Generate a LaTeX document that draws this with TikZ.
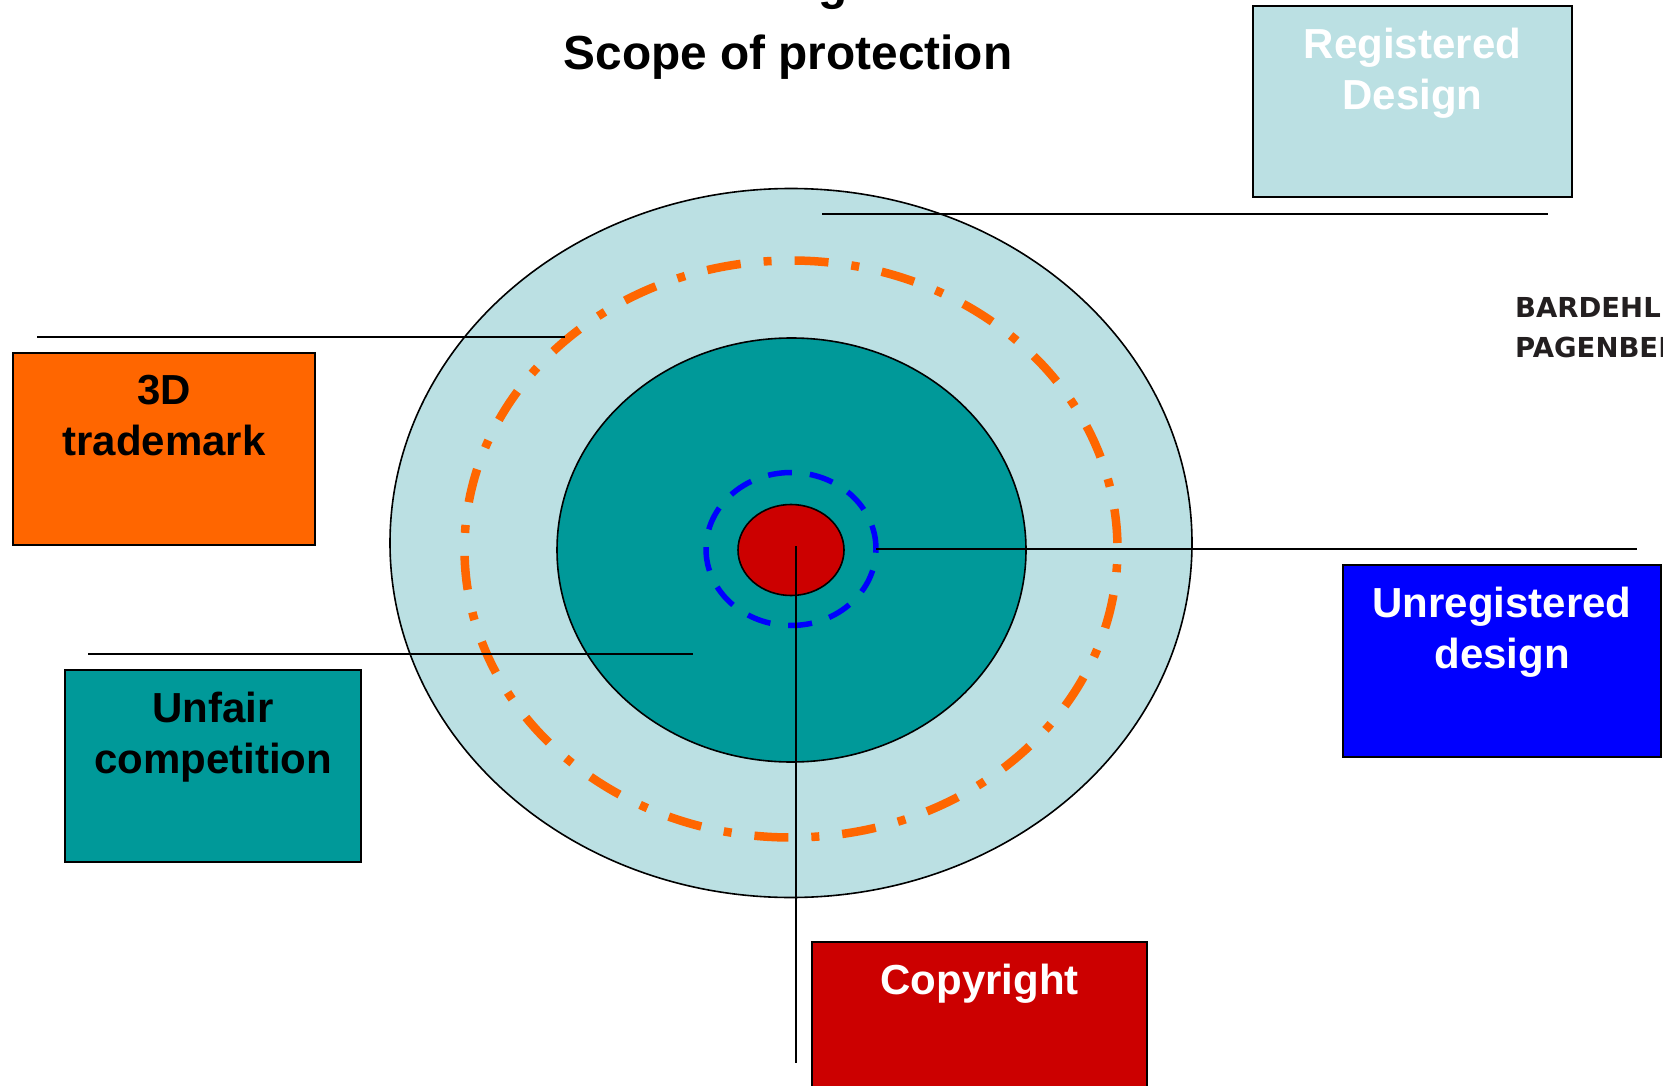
\documentclass[tikz,border=0pt]{standalone}
\usepackage{fontspec}
\setmainfont{Liberation Sans}
\newfontfamily\logofont{DejaVu Sans}
\usetikzlibrary{shapes.geometric}
\definecolor{lightcyan}{HTML}{BBE0E3}
\definecolor{tealc}{HTML}{009999}
\definecolor{orangec}{HTML}{FF6600}
\definecolor{redc}{HTML}{CC0000}
\definecolor{bluec}{HTML}{0000FF}
\definecolor{darkgr}{HTML}{231F20}
\begin{document}
\begin{tikzpicture}[x=1pt,y=-1pt,
  ring/.style={ellipse, draw=black, line width=1.6pt, inner sep=0pt},
  labelbox/.style={draw=black, line width=1.8pt},
  labeltext/.style={font=\fontsize{42}{51}\selectfont\bfseries, align=center, anchor=north, inner sep=0pt},
  leader/.style={draw=black, line width=1.6pt}]
\useasboundingbox (0,0) rectangle (1663,1086);
\clip (0,0) rectangle (1663,1086);
% title
\node[font=\fontsize{47.8}{57}\selectfont\bfseries, anchor=base, inner sep=0pt] (ttl0) at (797,-0.8) {Design};
\node[font=\fontsize{47.8}{57}\selectfont\bfseries, anchor=base, inner sep=0pt] (ttl) at (788,70) {Scope of protection};
% rings
\node[ring, fill=lightcyan, minimum width=802pt, minimum height=709pt] (outer) at (791,543) {};
\node[ellipse, draw=orangec, line width=8.5pt, dash pattern=on 34pt off 23pt on 8pt off 23pt, dash phase=82pt, minimum width=653pt, minimum height=577pt, inner sep=0pt] (tm) at (791,549) {};
\node[ring, fill=tealc, minimum width=469pt, minimum height=424pt] (mid) at (791.5,550) {};
\node[ellipse, draw=bluec, line width=5.5pt, dash pattern=on 24pt off 18pt, minimum width=170pt, minimum height=153pt, inner sep=0pt] (ud) at (791,549) {};
\node[ring, fill=redc, minimum width=106pt, minimum height=91pt] (core) at (791,550) {};
% boxes
\draw[labelbox, fill=lightcyan] (1253,6) rectangle (1572,197);
\node[labeltext, text=white] (rd) at (1412.5,28) {Registered\\Design};
\draw[labelbox, fill=orangec] (13,353) rectangle (315,545);
\node[labeltext] (td) at (164,375) {3D\\trademark};
\draw[labelbox, fill=tealc] (65,670) rectangle (361,862);
\node[labeltext] (uc) at (213,692) {Unfair\\competition};
\draw[labelbox, fill=bluec] (1343,565) rectangle (1661,757);
\node[labeltext, text=white] (urd) at (1502,587) {Unregistered\\design};
\draw[labelbox, fill=redc] (812,942) rectangle (1147,1100);
\node[labeltext, text=white] (cr) at (979.5,964) {Copyright};
% logo text
\node[font=\logofont\fontsize{27.5}{40}\selectfont\bfseries, text=darkgr, align=left, anchor=north west, inner sep=0pt] (logo) at (1515,297) {BARDEHLE\\PAGENBERG};
% leader lines
\coordinate (a1) at (822,214); \coordinate (a2) at (1548,214);
\coordinate (b1) at (37,337); \coordinate (b2) at (565,337);
\coordinate (c1) at (88,654); \coordinate (c2) at (693,654);
\coordinate (d1) at (876,549); \coordinate (d2) at (1637,549);
\coordinate (e1) at (796,546); \coordinate (e2) at (796,1063);
\draw[leader] (a1) -- (a2);
\draw[leader] (b1) -- (b2);
\draw[leader] (c1) -- (c2);
\draw[leader] (d1) -- (d2);
\draw[leader] (e1) -- (e2);
\end{tikzpicture}
\end{document}
